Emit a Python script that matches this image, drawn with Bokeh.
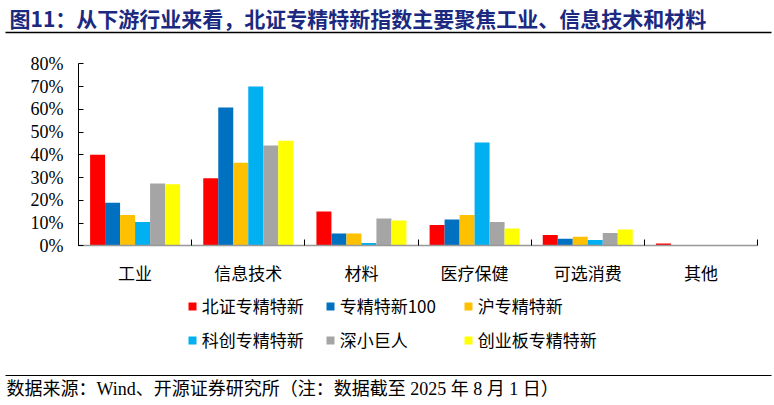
import numpy as np
from bokeh.plotting import figure
from bokeh.models import (Range1d, FixedTicker, LinearAxis, PrintfTickFormatter,
                          Legend, LegendItem, Label, BoxAnnotation, ColumnDataSource)
from bokeh.embed import file_html
from bokeh.resources import INLINE

# ---------------- data ----------------
industries = ["工业", "信息技术", "材料", "医疗保健", "可选消费", "其他"]
series_names = ["北证专精特新", "专精特新100", "沪专精特新", "科创专精特新", "深小巨人", "创业板专精特新"]
bz_zjtx = [40.0, 29.7, 15.1, 9.1, 4.7, 1.0]
zjtx_100 = [18.9, 60.8, 5.4, 11.6, 3.1, 0.0]
hu_zjtx = [13.5, 36.5, 5.4, 13.5, 4.0, 0.0]
kc_zjtx = [10.5, 70.0, 1.2, 45.4, 2.6, 0.0]
shen_xjr = [27.4, 44.1, 12.0, 10.5, 5.6, 0.0]
cyb_zjtx = [27.1, 46.2, 11.1, 7.6, 7.2, 0.1]
series_values = [bz_zjtx, zjtx_100, hu_zjtx, kc_zjtx, shen_xjr, cyb_zjtx]
colors = ["#FF0000", "#0070C0", "#FFC000", "#00B0F0", "#A5A5A5", "#FFFF00"]
y_ticks = [0, 10, 20, 30, 40, 50, 60, 70, 80]

title_text = "图11：从下游行业来看，北证专精特新指数主要聚焦工业、信息技术和材料"
footer_text = "数据来源：Wind、开源证券研究所（注：数据截至 2025 年 8 月 1 日）"

CJK = "Noto Sans CJK SC"
SERIF_CJK = "Liberation Serif, Noto Sans CJK SC"

W, H = 774, 405
# plot-area placement (pixels): value axis 0..80 between y=245.3 and y=63.3, categories between x=78 and x=757
PX_L, PX_R, PY_T, PY_B = 78.0, 757.0, 63.3, 245.3
ncat = len(industries)
sx = (PX_R - PX_L) / ncat
sy = (PY_B - PY_T) / 80.0
x_range = Range1d(-PX_L / sx, ncat + (W - PX_R) / sx)
y_range = Range1d(-(H - PY_B) / sy, 80 + PY_T / sy)

p = figure(width=W, height=H, output_backend="svg", toolbar_location=None,
           x_range=x_range, y_range=y_range, min_border=0,
           x_axis_type=None, y_axis_type=None)
p.outline_line_color = None
p.xgrid.visible = False
p.ygrid.visible = False

# ---------------- bars ----------------
n = len(series_names)
bw = 15.0 / 113.2
idx = np.arange(ncat)
renderers = []
for j, (name, vals, c) in enumerate(zip(series_names, series_values, colors)):
    src = ColumnDataSource(dict(x=idx + 0.5 + (j - (n - 1) / 2) * bw, top=vals))
    r = p.vbar(x="x", top="top", bottom=0, width=bw, source=src, fill_color=c, line_color=None)
    renderers.append(r)

# ---------------- axes ----------------
yax = LinearAxis(ticker=FixedTicker(ticks=y_ticks), formatter=PrintfTickFormatter(format="%d%%"),
                 fixed_location=0, bounds=(0, 80))
yax.axis_line_color = "black"
yax.axis_line_width = 1
yax.major_tick_in = 5
yax.major_tick_out = 0
yax.minor_tick_line_color = None
yax.major_tick_line_color = "black"
yax.major_label_text_font = "Liberation Serif"
yax.major_label_text_font_size = "18px"
yax.major_label_text_color = "black"
yax.major_label_standoff = 15
p.add_layout(yax, "left")

centers = [i + 0.5 for i in range(ncat)]
bounds = [float(i) for i in range(ncat + 1)]
xax = LinearAxis(ticker=FixedTicker(ticks=centers, minor_ticks=bounds),
                 fixed_location=0, bounds=(0, ncat))
xax.major_label_overrides = {c: lab for c, lab in zip(centers, industries)}
xax.axis_line_color = "#999999"
xax.axis_line_width = 1.5
xax.major_tick_in = 0
xax.major_tick_out = 0
xax.major_tick_line_color = None
xax.minor_tick_in = 6
xax.minor_tick_out = 0
xax.minor_tick_line_color = "black"
xax.minor_tick_line_width = 1
xax.major_label_text_font = CJK
xax.major_label_text_font_size = "17px"
xax.major_label_text_color = "black"
xax.major_label_standoff = 14
p.add_layout(xax, "below")

# ---------------- legend ----------------
items = [LegendItem(label=nm, renderers=[r]) for nm, r in zip(series_names, renderers)]
legend = Legend(items=items, location=(186.7, H - 352.0), orientation="horizontal", ncols=3,
                glyph_width=10, glyph_height=10, label_standoff=5, label_width=114,
                label_height=23, spacing=9, padding=0, margin=0,
                border_line_color=None, background_fill_alpha=0,
                label_text_font=CJK, label_text_font_size="17px", label_text_color="black")
p.add_layout(legend, "center")

# ---------------- title / footer ----------------
p.add_layout(Label(x=9, y=17, x_units="canvas", y_units="canvas", text=title_text,
                   text_font=CJK, text_font_size="21px", text_font_style="bold",
                   text_color="#1B2A80", text_baseline="middle"))
p.add_layout(BoxAnnotation(left=5, right=771, top=31.3, bottom=32.7, left_units="canvas",
                           right_units="canvas", top_units="canvas", bottom_units="canvas",
                           fill_color="black", fill_alpha=1, line_color=None))
p.add_layout(BoxAnnotation(left=5, right=771, top=374.4, bottom=375.6, left_units="canvas",
                           right_units="canvas", top_units="canvas", bottom_units="canvas",
                           fill_color="black", fill_alpha=1, line_color=None))
p.add_layout(Label(x=6, y=388, x_units="canvas", y_units="canvas", text=footer_text,
                   text_font=SERIF_CJK, text_font_size="18px",
                   text_color="black", text_baseline="middle"))

open("out.html", "w").write(file_html(p, INLINE))
